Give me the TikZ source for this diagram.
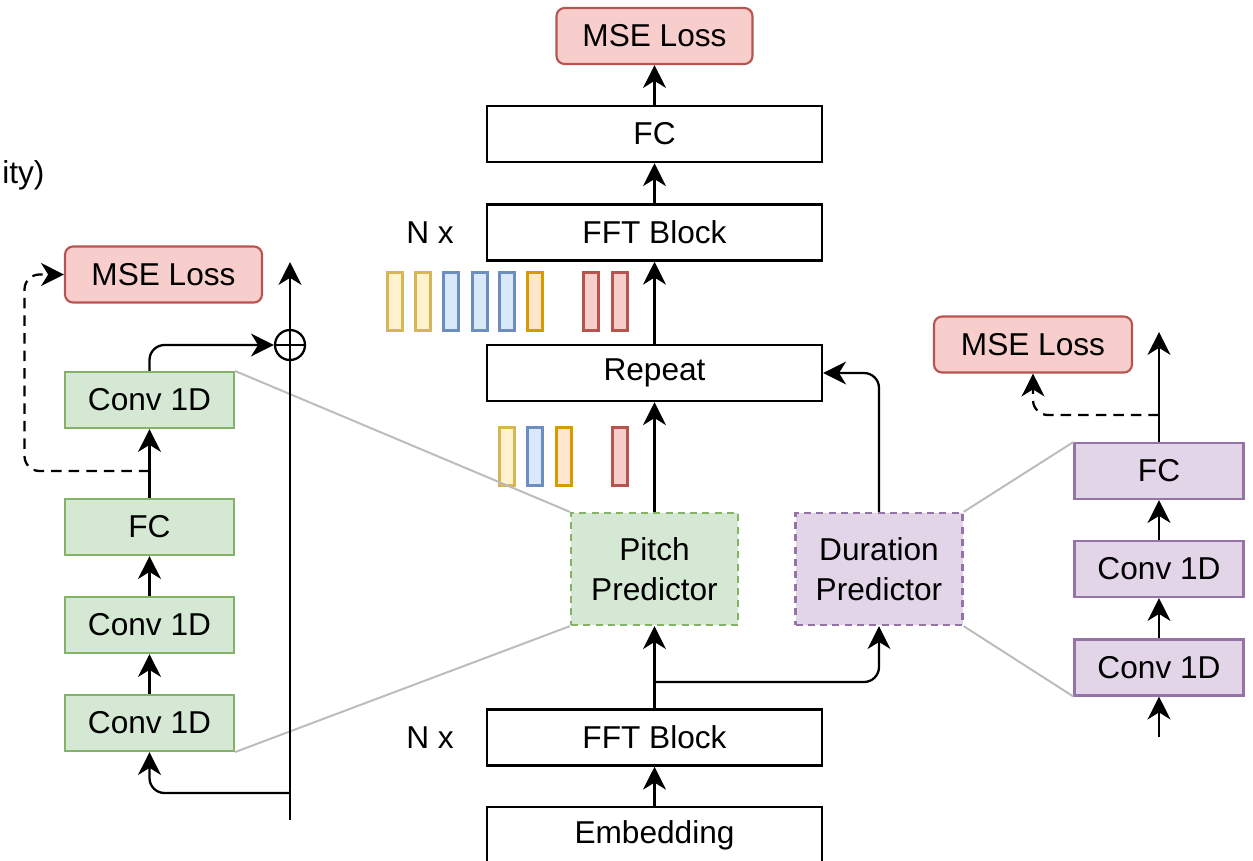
\documentclass[tikz,border=0pt]{standalone}
\usepackage{fontspec}
\setmainfont{Liberation Sans}
\usetikzlibrary{arrows.meta}
\definecolor{gfill}{HTML}{D5E8D4}\definecolor{gline}{HTML}{82B366}
\definecolor{rfill}{HTML}{F8CECC}\definecolor{rline}{HTML}{B85450}
\definecolor{pfill}{HTML}{E1D5E7}\definecolor{pline}{HTML}{9673A6}
\definecolor{yfill}{HTML}{FFF2CC}\definecolor{yline}{HTML}{D6B656}
\definecolor{bfill}{HTML}{DAE8FC}\definecolor{bline}{HTML}{6C8EBF}
\definecolor{ofill}{HTML}{FFE6CC}\definecolor{oline}{HTML}{D79B00}
\definecolor{zoomline}{HTML}{BBBBBB}
\begin{document}
\begin{tikzpicture}[x=0.02cm, y=-0.02cm,
    font=\fontsize{18}{23}\selectfont,
    >={Stealth[length=13pt,width=13pt,inset=4pt]},
    arr/.style={->, line width=1.3pt},
    mainbox/.style={draw, line width=1.4pt, inner sep=0, minimum width=6.7cm, minimum height=1.12cm},
    subbox/.style={draw, line width=1.2pt, inner sep=0, minimum width=3.38cm, minimum height=1.12cm},
    greenbox/.style={subbox, draw=gline, fill=gfill},
    purplebox/.style={subbox, draw=pline, fill=pfill},
    lossbox/.style={draw=rline, fill=rfill, line width=1.2pt, rounded corners=0.16cm, inner sep=0, minimum width=3.94cm, minimum height=1.12cm},
    predbox/.style={dash pattern=on 4pt off 3pt, line width=1.3pt, inner sep=0, minimum width=3.34cm, minimum height=2.24cm, align=center},
    bar/.style={draw, line width=1.4pt, inner sep=0, minimum width=0.3cm, minimum height=1.16cm},
    barYel/.style={bar, draw=yline, fill=yfill},
    barBlu/.style={bar, draw=bline, fill=bfill},
    barOra/.style={bar, draw=oline, fill=ofill},
    barRed/.style={bar, draw=rline, fill=rfill},
    zoom/.style={draw=zoomline, line width=1.1pt}]
    \useasboundingbox (0,0) rectangle (1253,860);

    % main column
    \node[lossbox, minimum width=3.92cm] (mseTop) at (654.5,36) {MSE Loss};
    \node[mainbox] (fcTop) at (654.5,134) {FC};
    \node[mainbox] (fftTop) at (654.5,232.5) {FFT Block};
    \node[mainbox] (repeat) at (654.5,373) {Repeat};
    \node[predbox, draw=gline, fill=gfill] (pitch) at (654.5,569) {Pitch\\Predictor};
    \node[predbox, draw=pline, fill=pfill] (dur) at (879,569) {Duration\\Predictor};
    \node[mainbox] (fftBot) at (654.5,737.5) {FFT Block};
    \node[mainbox] (emb) at (654.5,835) {Embedding};
    \node (nxTop) at (430,233) {N x};
    \node (nxBot) at (430,738) {N x};
    \node[anchor=base west, inner sep=0] (cut) at (2,183) {ity)};

    % hidden sequences
    \foreach \x/\s in {395/barYel, 423/barYel, 451/barBlu, 480/barBlu, 507/barBlu, 535/barOra, 591/barRed, 620/barRed}
        \node[\s] (up\x) at (\x,301.5) {};
    \foreach \x/\s in {507/barYel, 535/barBlu, 564/barOra, 620/barRed}
        \node[\s] (low\x) at (\x,456.5) {};

    % left column (pitch predictor)
    \node[lossbox] (lmse) at (163.5,274.5) {MSE Loss};
    \node[greenbox] (lconvA) at (149.5,400) {Conv 1D};
    \node[greenbox] (lfc) at (149.5,527) {FC};
    \node[greenbox] (lconvB) at (149.5,625) {Conv 1D};
    \node[greenbox] (lconvC) at (149.5,723) {Conv 1D};
    \node[circle, draw, line width=1.3pt, inner sep=0, minimum size=0.6cm] (plus) at (290,345) {};
    \coordinate (lbot) at (290,820);
    \coordinate (ltop) at (290,262);
    \coordinate (ltap) at (290,793);
    \coordinate (ldash) at (149.5,471);

    % right column (duration predictor)
    \node[lossbox, minimum width=3.96cm] (rmse) at (1033,344.5) {MSE Loss};
    \node[purplebox] (rfc) at (1159,471) {FC};
    \node[purplebox] (rconvA) at (1159,569) {Conv 1D};
    \node[purplebox] (rconvB) at (1159,667.5) {Conv 1D};
    \coordinate (rin) at (1159,737);
    \coordinate (rout) at (1159,332);
    \coordinate (rdash) at (1159,415);
    \coordinate (mtap) at (654.5,682);

    % zoom lines
    \draw[zoom] (lconvA.north east) -- (pitch.north west);
    \draw[zoom] (lconvC.south east) -- (pitch.south west);
    \draw[zoom] (dur.north east) -- (rfc.north west);
    \draw[zoom] (dur.south east) -- (rconvB.south west);

    % main arrows
    \draw[arr] (emb) -- (fftBot);
    \draw[arr] (fftBot) -- (pitch);
    \draw[arr, rounded corners=0.3cm] (mtap) -| (dur.south);
    \draw[arr] (pitch) -- (repeat);
    \draw[arr, rounded corners=0.3cm] (dur.north) |- (repeat.east);
    \draw[arr] (repeat) -- (fftTop);
    \draw[arr] (fftTop) -- (fcTop);
    \draw[arr] (fcTop) -- (mseTop);

    % left arrows
    \draw[arr] (lbot) -- (ltop);
    \draw[line width=1.3pt] (plus.west) -- (plus.east);
    \draw[arr, rounded corners=0.3cm] (ltap) -| (lconvC.south);
    \draw[arr] (lconvC) -- (lconvB);
    \draw[arr] (lconvB) -- (lfc);
    \draw[arr] (lfc) -- (lconvA);
    \draw[arr, rounded corners=0.3cm] (lconvA.north) |- (plus.west);
    \draw[arr, dash pattern=on 6pt off 4pt, rounded corners=0.3cm] (ldash) -- ++(-125,0) |- (lmse.west);

    % right arrows
    \draw[arr] (rin) -- (rconvB);
    \draw[arr] (rconvB) -- (rconvA);
    \draw[arr] (rconvA) -- (rfc);
    \draw[arr] (rfc) -- (rout);
    \draw[arr, dash pattern=on 6pt off 4pt, rounded corners=0.3cm] (rdash) -| (rmse.south);
\end{tikzpicture}
\end{document}
